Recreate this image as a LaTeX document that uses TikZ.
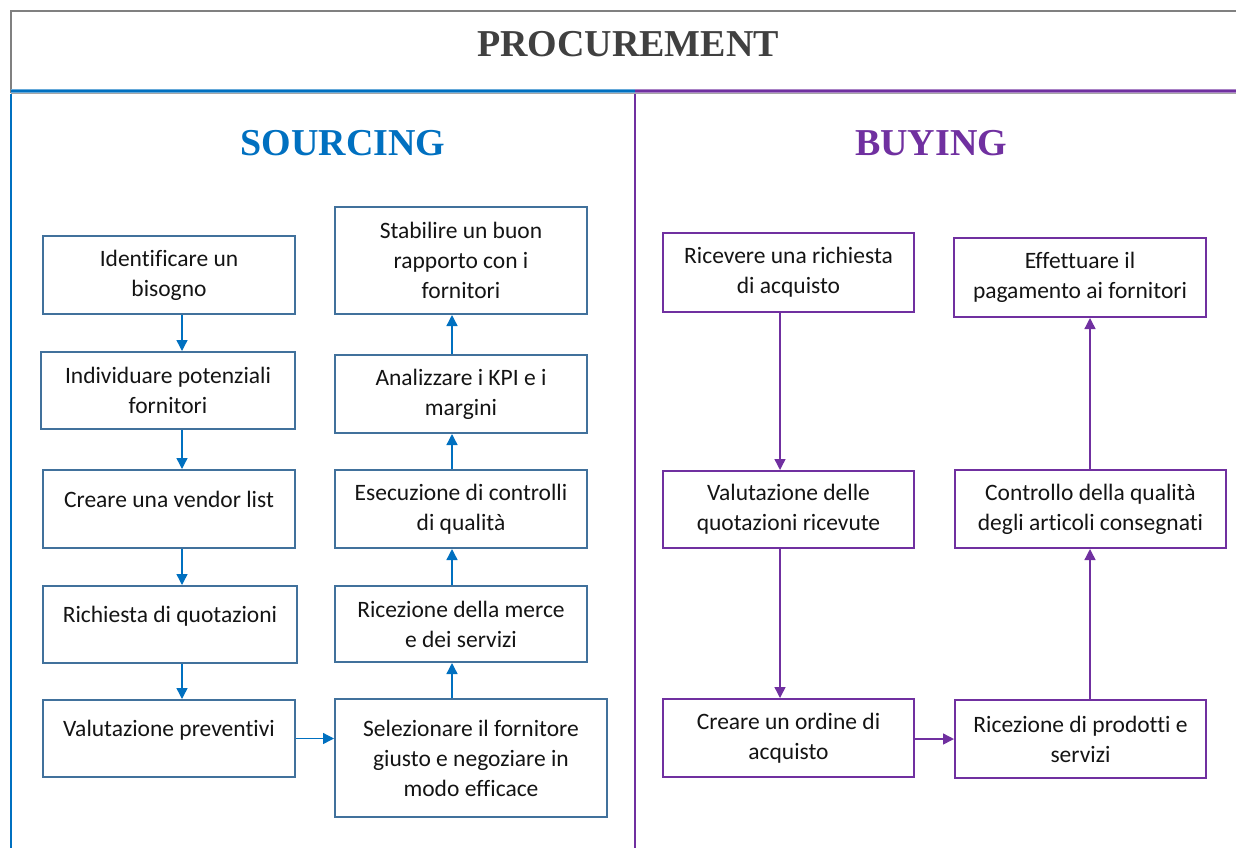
\documentclass[tikz,border=0pt]{standalone}
\usepackage{fontspec}
\setmainfont{Carlito}[Ligatures=NoCommon]
\newfontfamily\titlefont{Liberation Serif}
\usetikzlibrary{arrows.meta}
\definecolor{sblue}{RGB}{0,112,192}
\definecolor{bpurple}{RGB}{112,48,160}
\definecolor{boxblue}{RGB}{65,113,156}
\definecolor{framegray}{RGB}{128,128,128}
\definecolor{titlegray}{RGB}{64,64,64}
\definecolor{txt}{RGB}{20,20,20}
\tikzset{
  box/.style={draw, line width=2pt, inner sep=0pt, align=center, text=txt,
    font=\fontsize{23.5}{30}\selectfont},
  sbox/.style={box, draw=boxblue},
  pbox/.style={box, draw=bpurple},
  oneline/.style={text height=15pt, text depth=19pt},
  sarrow/.style={draw=sblue, line width=1.4pt, -{Triangle[length=11pt,width=11pt]}, color=sblue},
  parrow/.style={draw=bpurple, line width=1.4pt, -{Triangle[length=11pt,width=11pt]}, color=bpurple},
  heading/.style={font=\titlefont\bfseries\fontsize{38}{40}\selectfont}
}
\begin{document}
\begin{tikzpicture}[x=1pt,y=-1pt]
\useasboundingbox (0,0) rectangle (1236,847);
% frame
\draw[framegray, line width=2pt] (11,93) -- (11,11) -- (1237,11);
\draw[sblue!60, line width=4pt] (11,90.5) -- (635,90.5);
\draw[bpurple!60, line width=4pt] (635,90.5) -- (1237,90.5);
\draw[sblue, line width=2pt] (11,90.5) -- (635,90.5);
\draw[bpurple, line width=2pt] (635,90.5) -- (1237,90.5);
\draw[framegray!70, line width=1.5pt] (11,93.5) -- (1237,93.5);
\draw[sblue, line width=2pt] (11,94) -- (11,848);
\draw[bpurple, line width=2pt] (635,94) -- (635,848);
% headings
\node[heading, text=titlegray] (title) at (628,44) {PROCUREMENT};
\node[heading, text=sblue] (sourcing) at (343,143) {SOURCING};
\node[heading, text=bpurple] (buying) at (931,143) {BUYING};
% sourcing left column
\node[sbox, minimum width=252pt, minimum height=78pt] (b1) at (169,275) {Identificare un\\bisogno};
\node[sbox, minimum width=254pt, minimum height=77pt] (b2) at (168,390.5) {Individuare potenziali\\fornitori};
\node[sbox, oneline, minimum width=252pt, minimum height=78pt] (b3) at (169,509) {Creare una vendor list};
\node[sbox, oneline, minimum width=254pt, minimum height=77pt] (b4) at (170,624.5) {Richiesta di quotazioni};
\node[sbox, oneline, minimum width=252pt, minimum height=77pt] (b5) at (169,738.5) {Valutazione preventivi};
% sourcing right column
\node[sbox, minimum width=252pt, minimum height=107pt] (c1) at (461,260.5) {Stabilire un buon\\rapporto con i\\fornitori};
\node[sbox, minimum width=252pt, minimum height=78pt] (c2) at (461,394) {Analizzare i KPI e i\\margini};
\node[sbox, minimum width=252pt, minimum height=78pt] (c3) at (461,509) {Esecuzione di controlli\\di qualità};
\node[sbox, minimum width=252pt, minimum height=76pt] (c4) at (461,624) {Ricezione della merce\\e dei servizi};
\node[sbox, minimum width=272pt, minimum height=118pt] (c5) at (471,758) {Selezionare il fornitore\\giusto e negoziare in\\modo efficace};
% buying
\node[pbox, minimum width=251pt, minimum height=79pt] (d1) at (788.5,272.5) {Ricevere una richiesta\\di acquisto};
\node[pbox, minimum width=251pt, minimum height=77pt] (d2) at (788.5,509.5) {Valutazione delle\\quotazioni ricevute};
\node[pbox, minimum width=251pt, minimum height=78pt] (d3) at (788.5,738) {Creare un ordine di\\acquisto};
\node[pbox, minimum width=252pt, minimum height=79pt] (e1) at (1080,277.5) {Effettuare il\\pagamento ai fornitori};
\node[pbox, minimum width=271pt, minimum height=78pt] (e2) at (1090.5,509) {Controllo della qualità\\degli articoli consegnati};
\node[pbox, minimum width=251pt, minimum height=78pt] (e3) at (1080.5,739) {Ricezione di prodotti e\\servizi};
% arrow columns
\coordinate (ax) at (182,0);
\coordinate (cx) at (452,0);
\coordinate (dx) at (780,0);
\coordinate (ex) at (1090,0);
\draw[sarrow] (b1.south -| ax) -- (b2.north -| ax);
\draw[sarrow] (b2.south -| ax) -- (b3.north -| ax);
\draw[sarrow] (b3.south -| ax) -- (b4.north -| ax);
\draw[sarrow] (b4.south -| ax) -- (b5.north -| ax);
\draw[sarrow] (b5.east) -- (c5.west |- b5.east);
\draw[sarrow] (c5.north -| cx) -- (c4.south -| cx);
\draw[sarrow] (c4.north -| cx) -- (c3.south -| cx);
\draw[sarrow] (c3.north -| cx) -- (c2.south -| cx);
\draw[sarrow] (c2.north -| cx) -- (c1.south -| cx);
\draw[parrow] (d1.south -| dx) -- (d2.north -| dx);
\draw[parrow] (d2.south -| dx) -- (d3.north -| dx);
\draw[parrow] (d3.east |- e3.west) -- (e3.west);
\draw[parrow] (e3.north -| ex) -- (e2.south -| ex);
\draw[parrow] (e2.north -| ex) -- (e1.south -| ex);
\end{tikzpicture}
\end{document}
